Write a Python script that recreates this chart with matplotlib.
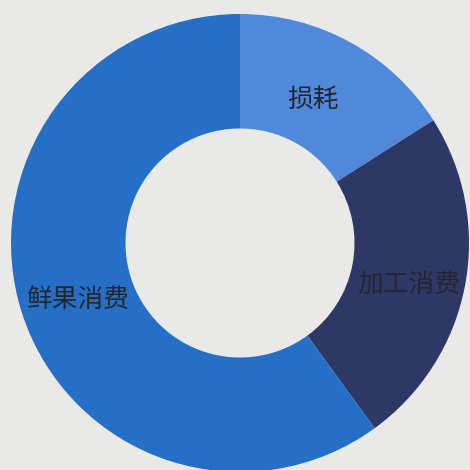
import matplotlib
matplotlib.use("Agg")
import matplotlib.pyplot as plt

plt.rcParams['font.family'] = ['Noto Sans CJK SC', 'DejaVu Sans']

labels = ["损耗", "加工消费", "鲜果消费"]
shares = [16, 24, 60]
colors = ["#5189da", "#2e3866", "#256fc6"]
# label anchor points in data units (ring radius = 1)
label_xy = [(0.32, 0.625), (0.735, -0.185), (-0.71, -0.25)]

BG = "#e9eae7"

fig = plt.figure(figsize=(4.7, 4.7), dpi=100, facecolor=BG)
ax = fig.add_axes([0, 0, 1, 1])
ax.set_facecolor(BG)

ax.pie(shares, colors=colors, startangle=90, counterclock=False, radius=1.0,
       wedgeprops=dict(width=0.5, linewidth=0))

for name, (x, y) in zip(labels, label_xy):
    ax.text(x, y, name, ha="center", va="center", fontsize=18.5,
            color="#23262e", fontweight="light")

# ring centre sits at pixel (240, 243), radius 229 px
ax.set_xlim(-240 / 229, 230 / 229)
ax.set_ylim(-227 / 229, 243 / 229)
ax.set_aspect("auto")
ax.axis("off")

fig.savefig("out.png", dpi=100, facecolor=BG)
